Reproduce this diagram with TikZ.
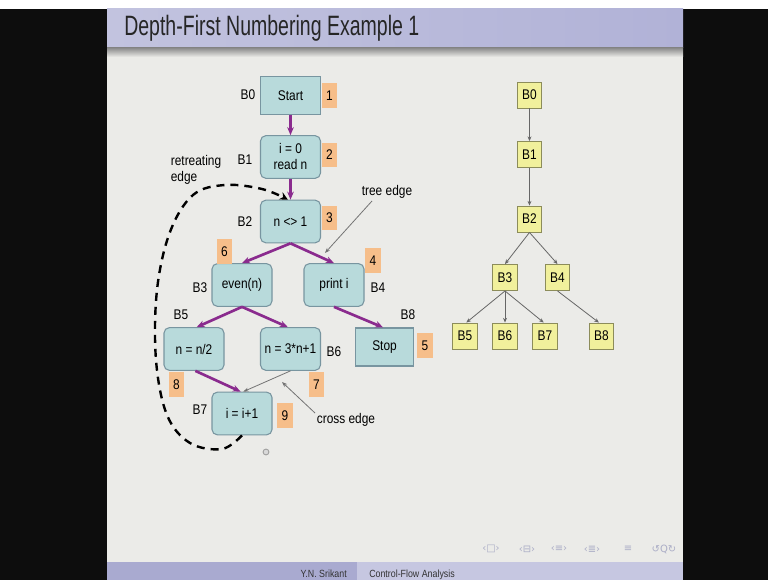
\documentclass[tikz,border=0pt]{standalone}
\usepackage{fontspec}
\setmainfont[FakeStretch=0.85]{Liberation Sans}
\newfontfamily\navfont{DejaVu Sans}
\usetikzlibrary{arrows.meta}

\definecolor{slidebg}{HTML}{EBEBE8}
\definecolor{barleft}{HTML}{C2C3DF}
\definecolor{barright}{HTML}{B1B2D7}
\definecolor{footdark}{HTML}{A9AAD0}
\definecolor{footlight}{HTML}{C6C7E1}
\definecolor{blockfill}{HTML}{B8DADB}
\definecolor{blockline}{HTML}{7895A0}
\definecolor{numfill}{HTML}{F6BE8A}
\definecolor{flowpurple}{HTML}{8A2B8E}
\definecolor{treefill}{HTML}{F1F09C}
\definecolor{treeline}{HTML}{8C8C5A}
\definecolor{navgray}{HTML}{ABADC6}

\tikzset{
  block/.style={draw=blockline, line width=0.8pt, fill=blockfill, rounded corners=4pt,
    minimum width=45pt, minimum height=32pt, align=center, inner sep=1pt,
    font=\fontsize{10.5}{12}\selectfont},
  sqblock/.style={block, rounded corners=0pt},
  num/.style={fill=numfill, minimum width=11.5pt, minimum height=18.5pt, inner sep=0pt,
    font=\fontsize{10.5}{12}\selectfont},
  blabel/.style={font=\fontsize{10.5}{12}\selectfont, inner sep=0pt},
  note/.style={font=\fontsize{10.5}{12}\selectfont, inner sep=0pt, align=left},
  flow/.style={draw=flowpurple, line width=2pt, -{Stealth[length=6pt,width=5pt]}},
  thin/.style={draw=black!55, line width=0.6pt, -{Stealth[length=4pt,width=3pt]}},
  retreat/.style={draw=black, line width=1.8pt, dash pattern=on 6pt off 4.5pt,
    -{Stealth[length=6pt,width=6pt]}},
  tnode/.style={draw=treeline, line width=0.7pt, fill=treefill, minimum width=18.5pt,
    minimum height=19.5pt, inner sep=0pt, font=\fontsize{10.5}{12}\selectfont},
  tedge/.style={draw=black!60, line width=0.6pt, -{Stealth[length=3.5pt,width=3pt]}},
  navsym/.style={inner sep=0pt, text=navgray, font=\navfont\fontsize{7.5}{8}\selectfont},
}

\begin{document}
\begin{tikzpicture}[x=0.75pt, y=-0.75pt]
% frame: white top strip, black side columns, slide area
\useasboundingbox (0,0) rectangle (768,580);
\fill[white] (0,0) rectangle (768,9);
\fill[black!95] (0,9) rectangle (107,580);
\fill[black!95] (683,9) rectangle (768,580);
\fill[slidebg] (107,9) rectangle (683,562);

% title bar with its shadow
\shade[left color=barleft, right color=barright] (107,9) rectangle (683,48);
\shade[top color=black!45, bottom color=slidebg] (107,48) rectangle (683,57);
\node[anchor=base west, inner sep=0pt, font=\fontsize{21}{24}\selectfont, text=black!85]
  (title) at (124,36) {\scalebox{0.82}[1]{Depth-First Numbering Example 1}};

% footer
\fill[footdark] (107,562) rectangle (357,580);
\fill[footlight] (357,562) rectangle (683,580);
\node[anchor=base east, inner sep=0pt, font=\fontsize{7.8}{9}\selectfont, text=black!80]
  (author) at (347,578) {Y.N. Srikant};
\node[anchor=base west, inner sep=0pt, font=\fontsize{7.8}{9}\selectfont, text=black!80]
  (course) at (369,578) {Control-Flow Analysis};

% navigation symbols
\node[navsym] (nv1) at (491,549) {‹□›};
\node[navsym] (nv2) at (527,549) {‹⊟›};
\node[navsym] (nv3) at (559,549) {‹≡›};
\node[navsym] (nv4) at (592,549) {‹≣›};
\node[navsym] (nv5) at (628,549) {≡};
\node[navsym] (nv6) at (664,549) {↺Q↻};

% control-flow graph blocks
\node[sqblock, minimum height=28pt] (b0) at (290.5,95.5) {Start};
\node[block] (b1) at (290.5,157) {i = 0\\read n};
\node[block] (b2) at (290.5,221.5) {n <> 1};
\node[block] (b3) at (242,285) {even(n)};
\node[block] (b4) at (334,285) {print i};
\node[block] (b5) at (194,349) {n = n/2};
\node[block] (b6) at (290.5,349) {n = 3*n+1};
\node[sqblock, minimum width=43pt, minimum height=28.5pt] (b8) at (384.5,347) {Stop};
\node[block] (b7) at (242,413.5) {i = i+1};

% block names
\node[blabel] (l0) at (248,95) {B0};
\node[blabel] (l1) at (245,160) {B1};
\node[blabel] (l2) at (245,222) {B2};
\node[blabel] (l3) at (200,288) {B3};
\node[blabel] (l4) at (378,288) {B4};
\node[blabel] (l5) at (181,315) {B5};
\node[blabel] (l6) at (334,352) {B6};
\node[blabel] (l8) at (408,315) {B8};
\node[blabel] (l7) at (200,410) {B7};

% depth-first numbers
\node[num] (n1) at (329.5,95.5) {1};
\node[num] (n2) at (329.5,155) {2};
\node[num] (n3) at (329.5,218) {3};
\node[num] (n6) at (224.5,251.5) {6};
\node[num] (n4) at (373,260.5) {4};
\node[num] (n5) at (425,345.5) {5};
\node[num] (n8) at (176.5,384.5) {8};
\node[num] (n7) at (316.5,384.5) {7};
\node[num] (n9) at (285,415.5) {9};

% tree edges
\draw[flow] (b0.south) -- (b1.north);
\draw[flow] (b1.south) -- (b2.north);
\draw[flow] (b2.south) -- (b3.north);
\draw[flow] (b2.south) -- (b4.north);
\draw[flow] (b3.south) -- ([xshift=2pt]b5.north);
\draw[flow] (b3.south) -- ([xshift=-2pt]b6.north);
\draw[flow] (b4.south) -- ([xshift=-1pt]b8.north);
\draw[flow] ([xshift=1pt]b5.south) -- ([xshift=-1pt]b7.north);

% cross edge
\draw[thin] (b6.south) -- ([xshift=1pt]b7.north);

% retreating edge
\draw[retreat] plot[smooth, tension=0.6] coordinates {(b7.south) (222,449) (190,443) (167,415)
  (156,360) (157,290) (170,232) (193,195) (225,185) (262,189) ([xshift=-2pt]b2.north)};

% annotations
\node[note] (rt) at (196,170) {retreating\\edge};
\node[note] (te) at (387,192) {tree edge};
\node[note] (ce) at (346,420) {cross edge};
\coordinate (tetip) at (325,253);
\coordinate (cetip) at (282,382);
\draw[thin] (372,201) -- (tetip);
\draw[thin] (315,413) -- (cetip);

% small pointer glyph
\draw[black!40, line width=0.6pt, fill=black!15] (266,452) circle (2.2pt);

% depth-first spanning tree
\node[tnode] (t0) at (529.5,95) {B0};
\node[tnode] (t1) at (529.5,154.5) {B1};
\node[tnode] (t2) at (529.5,219) {B2};
\node[tnode] (t3) at (505,277.5) {B3};
\node[tnode] (t4) at (557.5,277.5) {B4};
\node[tnode] (t5) at (465,336) {B5};
\node[tnode] (t6) at (505,336) {B6};
\node[tnode] (t7) at (545,336) {B7};
\node[tnode] (t8) at (601.5,336) {B8};
\draw[tedge] (t0) -- (t1);
\draw[tedge] (t1) -- (t2);
\draw[tedge] (t2.south) -- (t3.north);
\draw[tedge] (t2.south) -- (t4.north);
\draw[tedge] (t3.south) -- ([xshift=1pt]t5.north);
\draw[tedge] (t3.south) -- (t6.north);
\draw[tedge] (t3.south) -- ([xshift=-1pt]t7.north);
\draw[tedge] (t4.south) -- ([xshift=-2pt]t8.north);
\end{tikzpicture}
\end{document}
